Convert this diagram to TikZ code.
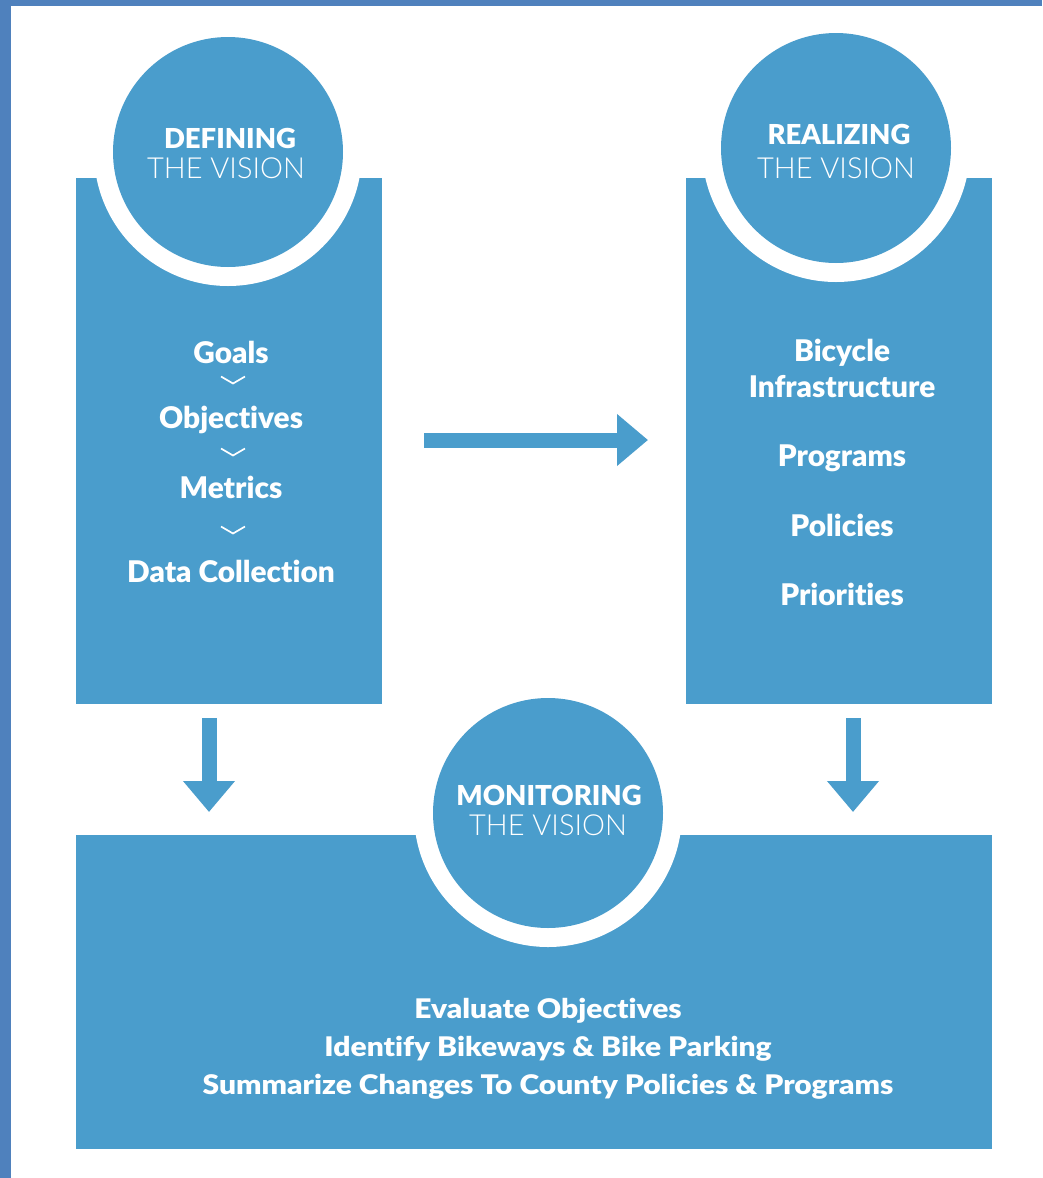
\documentclass[tikz,border=0pt]{standalone}
\usepackage{fontspec}
\setmainfont{Lato}[Ligatures={NoCommon}]
\newfontfamily\heavyfont{Lato Black}[Ligatures={NoCommon}]
\newfontfamily\lightfont{Lato Light}[Ligatures={NoCommon}]
\newfontfamily\widefont{Lato Black}[Ligatures={NoCommon},FakeStretch=1.11]
\usetikzlibrary{arrows.meta}
\definecolor{flowblue}{RGB}{74,157,204}
\definecolor{frameblue}{RGB}{79,129,189}

\tikzset{
  panel/.style={fill=flowblue, draw=none},
  halo/.style={fill=white, draw=none},
  disc/.style={fill=flowblue, draw=none},
  headbold/.style={text=white, inner sep=0pt, anchor=base, font=\heavyfont\fontsize{27.5}{30}\selectfont},
  headlight/.style={text=white, inner sep=0pt, anchor=base, font=\lightfont\fontsize{29}{31}\selectfont},
  item/.style={text=white, inner sep=0pt, anchor=base, font=\heavyfont\fontsize{29.8}{32}\selectfont},
  bottomitem/.style={text=white, inner sep=0pt, anchor=base, font=\widefont\fontsize{27}{29}\selectfont},
  chevron/.style={draw=white, line width=1.7pt},
  blockarrow/.style={draw=flowblue, line width=15pt,
    -{Triangle[width=50pt,length=31pt]}},
}

\begin{document}
\begin{tikzpicture}[x=1pt,y=-1pt]
\useasboundingbox (0,0) rectangle (1042,1178);
\fill[white] (0,0) rectangle (1042,1178);
% frame strips along the left and top edges
\fill[frameblue] (0,0) rectangle (11,1178);
\fill[frameblue] (0,0) rectangle (1042,6);

% the three panels
\fill[panel] (76,178) rectangle (382,704);
\fill[panel] (686,178) rectangle (992,704);
\fill[panel] (76,835) rectangle (992,1149);

% circles, each cut out of its panel by a white halo
\fill[halo] (228,152) circle[radius=134];
\fill[disc] (228,152) circle[radius=115];
\fill[halo] (836,148) circle[radius=134];
\fill[disc] (836,148) circle[radius=115];
\fill[halo] (548,813) circle[radius=134];
\fill[disc] (548,813) circle[radius=115];

% circle titles
\node[headbold]  (defA) at (230,148) {DEFINING};
\node[headlight] (defB) at (226,178) {THE VISION};
\node[headbold]  (reaA) at (839,144) {REALIZING};
\node[headlight] (reaB) at (836,178) {THE VISION};
\node[headbold]  (monA) at (549,805) {MONITORING};
\node[headlight] (monB) at (548,835) {THE VISION};

% left panel list
\node[item] (goals) at (231,363) {Goals};
\node[item] (objs)  at (231,428) {Objectives};
\node[item] (mets)  at (231,498) {Metrics};
\node[item] (data)  at (231,582) {Data Collection};
\foreach \cy in {380,452,530}
  \draw[chevron] (221,\cy-3.5) -- (233,\cy+3.5) -- (245,\cy-3.5);

% right panel list
\node[item] (bike)  at (842,361) {Bicycle};
\node[item] (infra) at (842,397) {Infrastructure};
\node[item] (progs) at (842,466) {Programs};
\node[item] (pols)  at (842,536) {Policies};
\node[item] (prios) at (842,605) {Priorities};

% bottom panel list
\node[bottomitem] (evalo) at (548,1018) {Evaluate Objectives};
\node[bottomitem] (ident) at (548,1056) {Identify Bikeways \& Bike Parking};
\node[bottomitem] (summ)  at (548,1094) {Summarize Changes To County Policies \& Programs};

% block arrows between the stages
\coordinate (hS) at (424,440);
\coordinate (hE) at (648,440);
\coordinate (lS) at (209,718);
\coordinate (lE) at (209,812);
\coordinate (rS) at (853,718);
\coordinate (rE) at (853,812);
\draw[blockarrow] (hS) -- (hE);
\draw[blockarrow] (lS) -- (lE);
\draw[blockarrow] (rS) -- (rE);
\end{tikzpicture}
\end{document}
